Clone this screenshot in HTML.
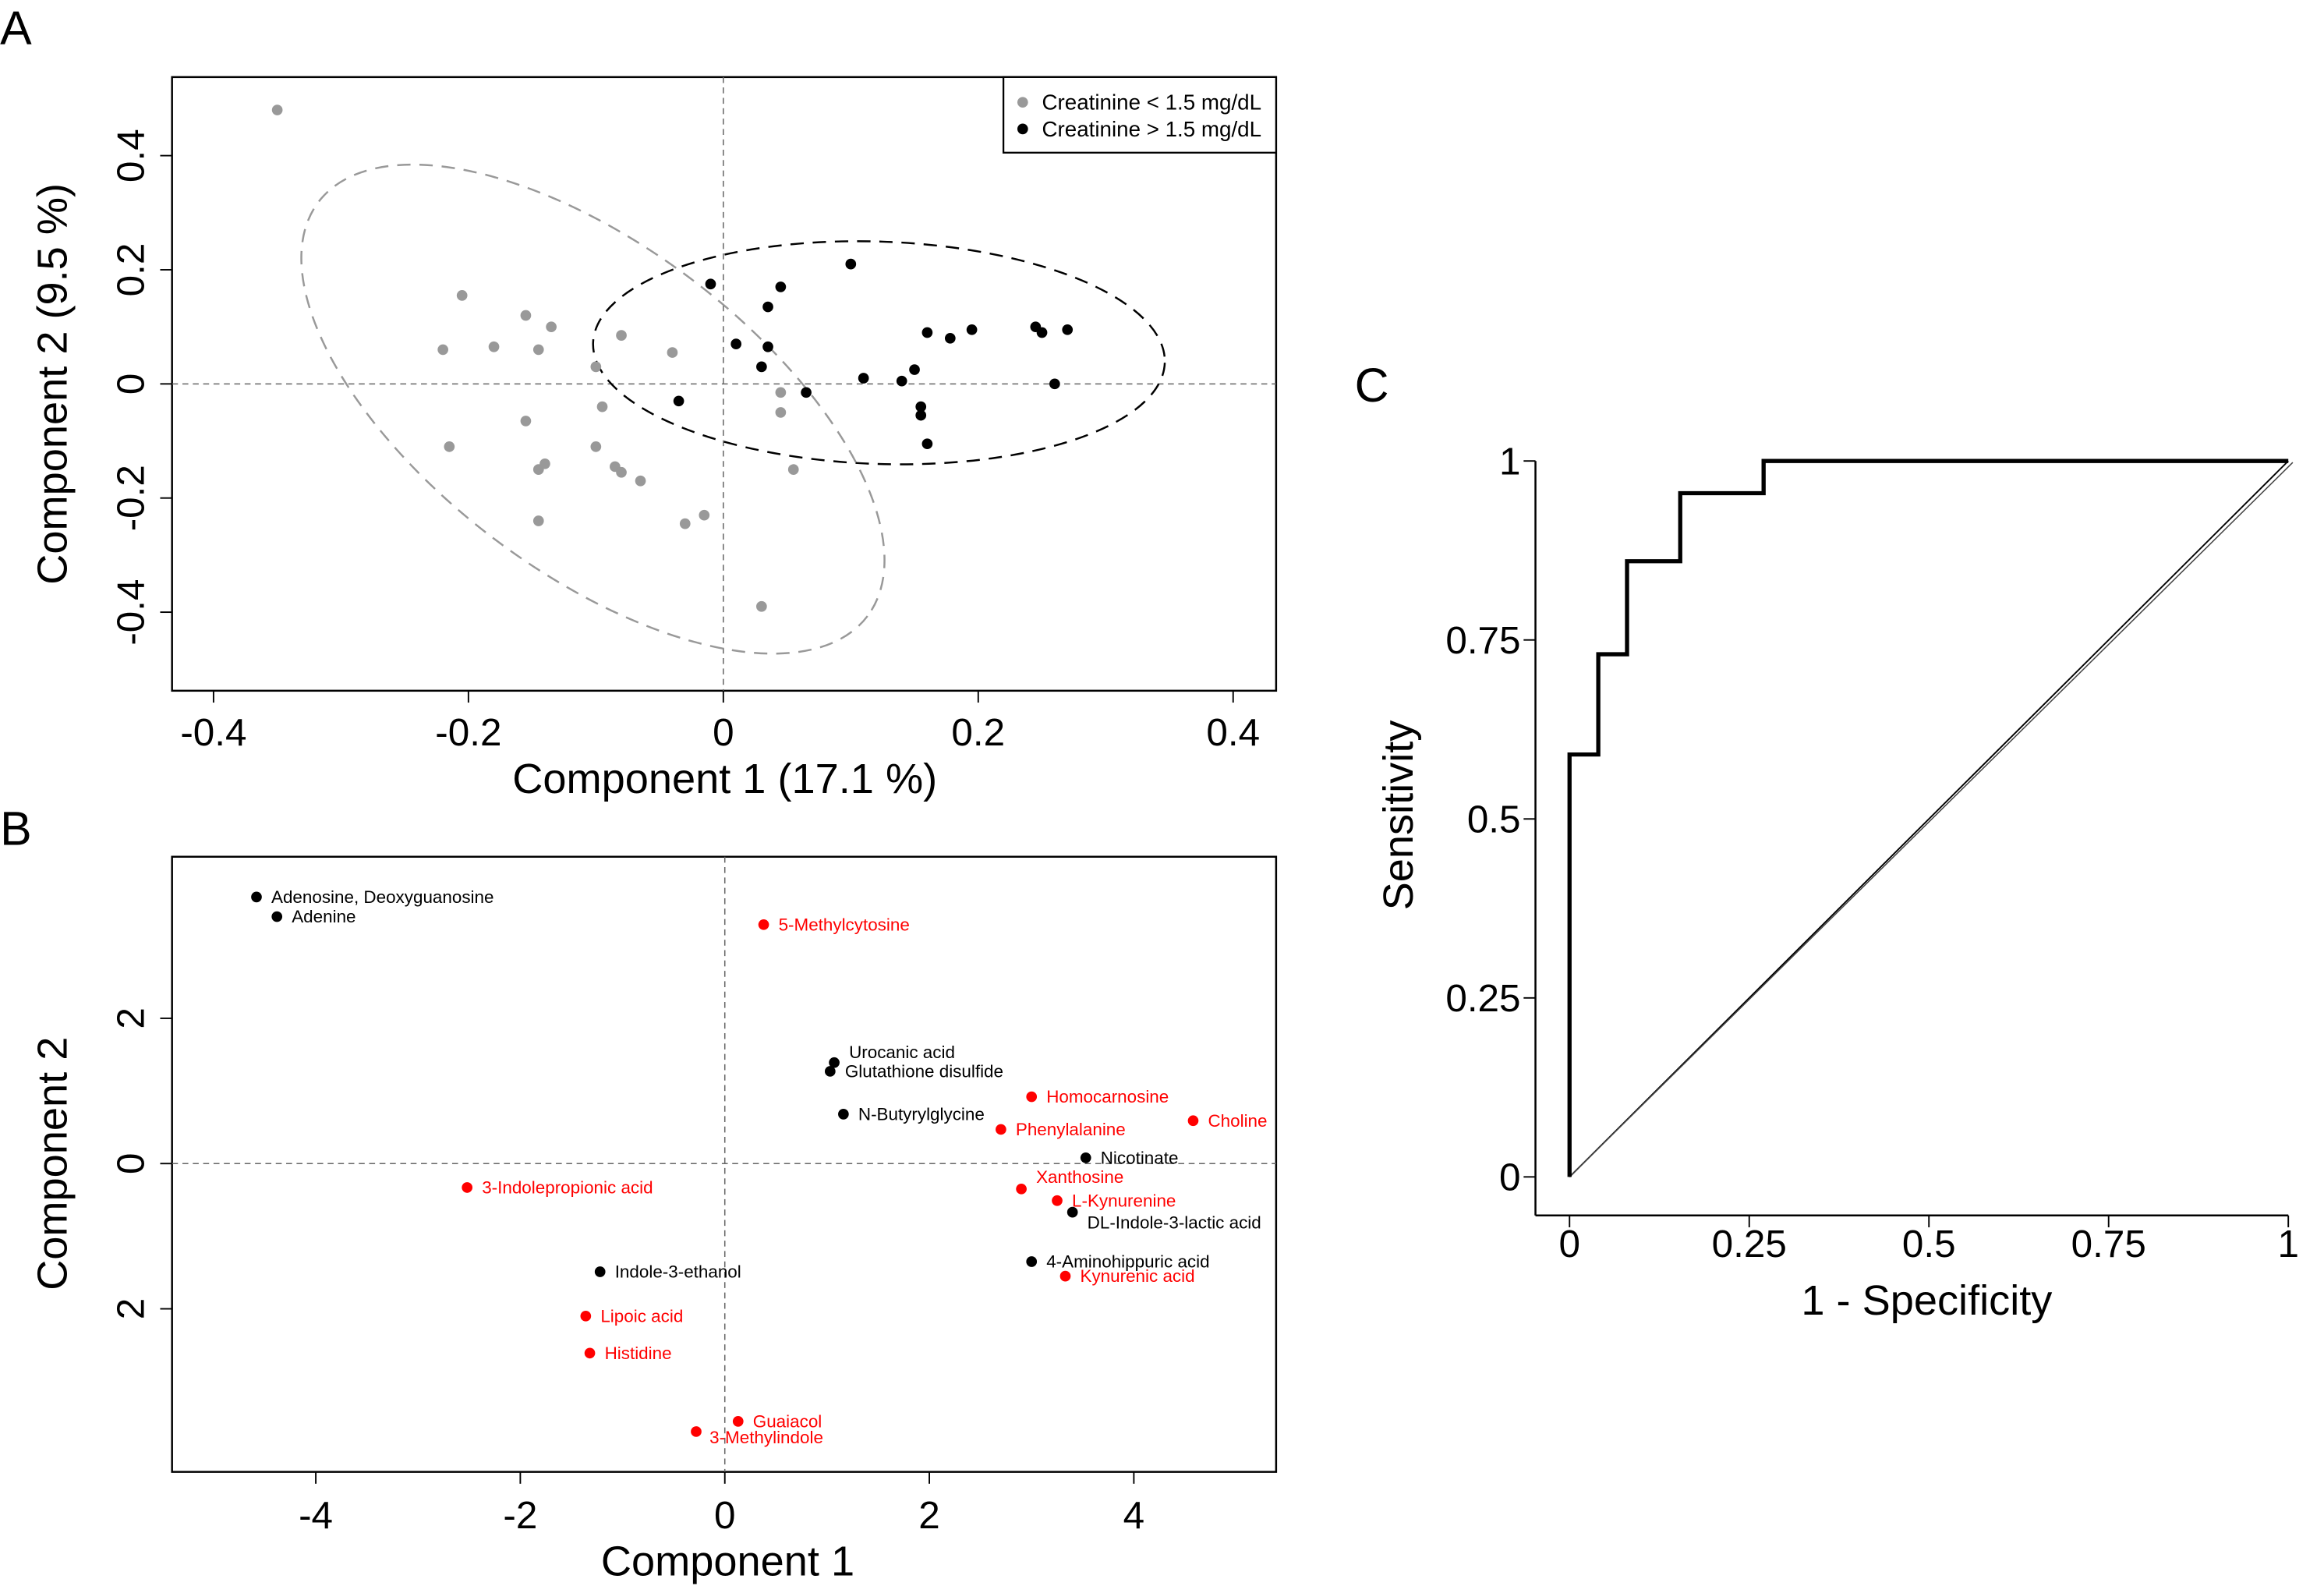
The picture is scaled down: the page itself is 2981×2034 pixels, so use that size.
<!DOCTYPE html>
<html><head><meta charset="utf-8"><style>
html,body{margin:0;padding:0;background:#fff}
svg{display:block}
text{font-family:"Liberation Sans",Arial,sans-serif}
</style></head><body>
<svg id="fig" width="2981" height="2034" viewBox="0 0 1568 1070" xmlns="http://www.w3.org/2000/svg">
<g id="A"></g>
<g id="B"></g>
<g id="C"></g>
</svg>
<script>
// Panel A data
const aGrayX=[-0.35,-0.205,-0.22,-0.18,-0.155,-0.145,-0.135,-0.1,-0.08,-0.04,-0.215,-0.155,-0.145,-0.14,-0.1,-0.095,-0.085,-0.08,-0.065,-0.145,-0.03,-0.015,0.045,0.045,0.055,0.03];
const aGrayY=[0.48,0.155,0.06,0.065,0.12,0.06,0.1,0.03,0.085,0.055,-0.11,-0.065,-0.15,-0.14,-0.11,-0.04,-0.145,-0.155,-0.17,-0.24,-0.245,-0.23,-0.015,-0.05,-0.15,-0.39];
const aBlackX=[-0.01,0.045,0.035,0.1,0.01,0.035,0.03,0.065,-0.035,0.11,0.14,0.15,0.155,0.155,0.16,0.16,0.178,0.195,0.245,0.25,0.27,0.26];
const aBlackY=[0.175,0.17,0.135,0.21,0.07,0.065,0.03,-0.015,-0.03,0.01,0.005,0.025,-0.04,-0.055,-0.105,0.09,0.08,0.095,0.1,0.09,0.095,0];
const aXTicks=[-0.4,-0.2,0,0.2,0.4];
const aYTicks=[-0.4,-0.2,0,0.2,0.4];
// Panel B data
const bNames=["Adenosine, Deoxyguanosine","Adenine","5-Methylcytosine","Urocanic acid","Glutathione disulfide","N-Butyrylglycine","Homocarnosine","Choline","Phenylalanine","Nicotinate","Xanthosine","L-Kynurenine","DL-Indole-3-lactic acid","4-Aminohippuric acid","Kynurenic acid","3-Indolepropionic acid","Indole-3-ethanol","Lipoic acid","Histidine","Guaiacol","3-Methylindole"];
const bX=[-4.58,-4.38,0.38,1.07,1.03,1.16,3.0,4.58,2.7,3.53,2.9,3.25,3.4,3.0,3.33,-2.52,-1.22,-1.36,-1.32,0.13,-0.28];
const bY=[3.67,3.4,3.29,1.39,1.27,0.68,0.92,0.59,0.47,0.08,-0.35,-0.51,-0.67,-1.35,-1.55,-0.33,-1.49,-2.1,-2.61,-3.55,-3.69];
const bRed=[0,0,1,0,0,0,1,1,1,0,1,1,0,0,1,1,0,1,1,1,1];
const bLabDx=[10,10,10,10,10,10,10,10,10,10,10,10,10,10,10,10,10,10,10,10,9];
const bLabDy=[0,0,0,-7,0,0,0,0,0,0,-8,0,7,0,0,0,0,0,0,0,4];
const bXTicks=[-4,-2,0,2,4];
const bYTicks=[-2,0,2];
// Panel C data
const rocFPR=[0,0,0.04,0.04,0.08,0.08,0.154,0.154,0.27,0.27,1];
const rocTPR=[0,0.59,0.59,0.73,0.73,0.86,0.86,0.955,0.955,1,1];
const cTicks=[0,0.25,0.5,0.75,1];
const cTickLabels=["0","0.25","0.5","0.75","1"];

const NS="http://www.w3.org/2000/svg";
function mk(parent,tag,attrs,txt){const e=document.createElementNS(NS,tag);for(const k in attrs)e.setAttribute(k,attrs[k]);if(txt!==undefined)e.textContent=txt;parent.appendChild(e);return e;}

// ---------- Panel A ----------
const A=document.getElementById('A');
const ax=v=>488+v*860, ay=v=>259-v*385;
let t=mk(A,'text',{x:0,y:30,'font-size':32});t.textContent='A';


let r=mk(A,'rect',{x:116,y:52,width:745,height:414,fill:'none',stroke:'#000','stroke-width':1.3});


mk(A,'line',{x1:ax(0),x2:ax(0),y1:52,y2:466,stroke:'#666','stroke-dasharray':'4,3','stroke-width':0.8});
mk(A,'line',{x1:116,x2:861,y1:ay(0),y2:ay(0),stroke:'#666','stroke-dasharray':'4,3','stroke-width':0.8});
let e1=mk(A,'ellipse',{cx:400,cy:276,rx:232,ry:110,transform:'rotate(37 400 276)',fill:'none',stroke:'#999','stroke-width':1.3,'stroke-dasharray':'9,6'});


let e2=mk(A,'ellipse',{cx:593,cy:238,rx:193,ry:75,transform:'rotate(2 593 238)',fill:'none',stroke:'#000','stroke-width':1.3,'stroke-dasharray':'9,6'});


for(let i=0;i<aGrayX.length;i++){const c=mk(A,'circle',{cx:ax(aGrayX[i]),cy:ay(aGrayY[i]),r:3.6,fill:'#999'});

}
for(let i=0;i<aBlackX.length;i++){const c=mk(A,'circle',{cx:ax(aBlackX[i]),cy:ay(aBlackY[i]),r:3.6,fill:'#000'});

}
aXTicks.forEach(v=>{mk(A,'line',{x1:ax(v),x2:ax(v),y1:466,y2:474,stroke:'#000'});
const l=mk(A,'text',{x:ax(v),y:503,'font-size':26,'text-anchor':'middle'},v===0?'0':v.toFixed(1));

});
aYTicks.forEach(v=>{mk(A,'line',{x1:108,x2:116,y1:ay(v),y2:ay(v),stroke:'#000'});
const l=mk(A,'text',{x:0,y:0,'font-size':26,'text-anchor':'middle',transform:`translate(97 ${ay(v)}) rotate(-90)`},v===0?'0':v.toFixed(1));

});
t=mk(A,'text',{x:489,y:535,'font-size':28.5,'text-anchor':'middle'},'Component 1 (17.1 %)');


t=mk(A,'text',{x:0,y:0,'font-size':28.5,'text-anchor':'middle',transform:'translate(45 259) rotate(-90)'},'Component 2 (9.5 %)');


const lg=mk(A,'g',{});


mk(lg,'rect',{x:677,y:52,width:184,height:51,fill:'#fff',stroke:'#000','stroke-width':1.2});
mk(lg,'circle',{cx:690,cy:69,r:3.6,fill:'#999'});
mk(lg,'text',{x:703,y:74,'font-size':14.6},'Creatinine < 1.5 mg/dL');
mk(lg,'circle',{cx:690,cy:87,r:3.6,fill:'#000'});
mk(lg,'text',{x:703,y:92,'font-size':14.6},'Creatinine > 1.5 mg/dL');

// ---------- Panel B ----------
const B=document.getElementById('B');
const bx=v=>489+v*69, by=v=>785-v*49;
t=mk(B,'text',{x:0,y:570,'font-size':32},'B');


r=mk(B,'rect',{x:116,y:578,width:745,height:415,fill:'none',stroke:'#000','stroke-width':1.3});


mk(B,'line',{x1:bx(0),x2:bx(0),y1:578,y2:993,stroke:'#666','stroke-dasharray':'4,3','stroke-width':0.8});
mk(B,'line',{x1:116,x2:861,y1:by(0),y2:by(0),stroke:'#666','stroke-dasharray':'4,3','stroke-width':0.8});
for(let i=0;i<bNames.length;i++){const col=bRed[i]?'#f00':'#000';
const c=mk(B,'circle',{cx:bx(bX[i]),cy:by(bY[i]),r:3.6,fill:col});


const l=mk(B,'text',{x:bx(bX[i])+bLabDx[i],y:by(bY[i])+bLabDy[i]+4,'font-size':11.8,fill:col},bNames[i]);

}
bXTicks.forEach(v=>{mk(B,'line',{x1:bx(v),x2:bx(v),y1:993,y2:1001,stroke:'#000'});
const l=mk(B,'text',{x:bx(v),y:1031,'font-size':26,'text-anchor':'middle'},String(v));

});
bYTicks.forEach(v=>{mk(B,'line',{x1:108,x2:116,y1:by(v),y2:by(v),stroke:'#000'});
const l=mk(B,'text',{x:0,y:0,'font-size':26,'text-anchor':'middle',transform:`translate(97 ${by(v)}) rotate(-90)`},String(Math.abs(v)));

});
t=mk(B,'text',{x:491,y:1063,'font-size':28.5,'text-anchor':'middle'},'Component 1');


t=mk(B,'text',{x:0,y:0,'font-size':28.5,'text-anchor':'middle',transform:'translate(45 785) rotate(-90)'},'Component 2');



// ---------- Panel C ----------
const C=document.getElementById('C');
const cx=v=>1059+v*485, cy=v=>794-v*483;
t=mk(C,'text',{x:914,y:271,'font-size':32},'C');


mk(C,'line',{x1:1036,x2:1036,y1:cy(1),y2:820,stroke:'#000','stroke-width':1.3});
mk(C,'line',{x1:1036,x2:cx(1),y1:820,y2:820,stroke:'#000','stroke-width':1.3});
cTicks.forEach((v,i)=>{mk(C,'line',{x1:cx(v),x2:cx(v),y1:820,y2:828,stroke:'#000'});
let l=mk(C,'text',{x:cx(v),y:848,'font-size':26,'text-anchor':'middle'},cTickLabels[i]);


mk(C,'line',{x1:1028,x2:1036,y1:cy(v),y2:cy(v),stroke:'#000'});
l=mk(C,'text',{x:1026,y:cy(v)+9,'font-size':26,'text-anchor':'end'},cTickLabels[i]);

});
let d=mk(C,'line',{x1:cx(0),y1:cy(0),x2:cx(1),y2:cy(1),stroke:'#000','stroke-width':1});


mk(C,'line',{x1:cx(0),y1:cy(0),x2:cx(1)+3,y2:cy(1)+1,stroke:'#444','stroke-width':0.8});
const pts=rocFPR.map((f,i)=>cx(f)+','+cy(rocTPR[i])).join(' ');
const roc=mk(C,'polyline',{points:pts,fill:'none',stroke:'#000','stroke-width':2.8});


t=mk(C,'text',{x:1300,y:887,'font-size':28.5,'text-anchor':'middle'},'1 - Specificity');


t=mk(C,'text',{x:0,y:0,'font-size':28.5,'text-anchor':'middle',transform:'translate(953 550) rotate(-90)'},'Sensitivity');


</script>
</body></html>
